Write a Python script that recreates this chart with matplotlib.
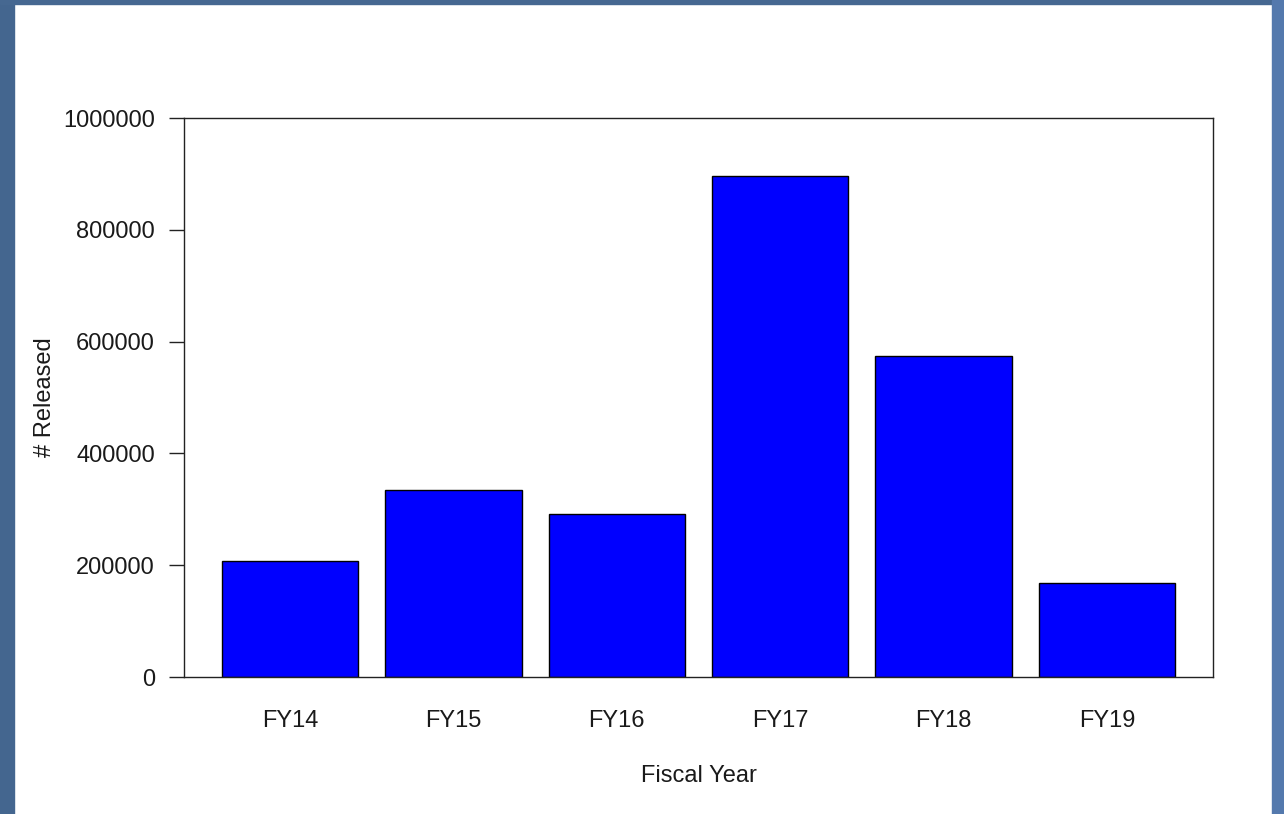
import matplotlib
matplotlib.use("Agg")
import matplotlib.pyplot as plt
from matplotlib.patches import Rectangle

categories = ["FY14", "FY15", "FY16", "FY17", "FY18", "FY19"]
released = [207500, 334000, 291000, 897000, 575000, 169000]
yticks = [0, 200000, 400000, 600000, 800000, 1000000]

plt.rcParams['font.family'] = ['Liberation Sans', 'DejaVu Sans']
plt.rcParams['text.color'] = '#1a1a1a'
plt.rcParams['xtick.color'] = '#1a1a1a'
plt.rcParams['ytick.color'] = '#1a1a1a'

W, H = 1284, 814
fig = plt.figure(figsize=(W / 100, H / 100), dpi=100)
fig.patch.set_facecolor("white")
# border strips
fig.patches.append(Rectangle((0, 0), 14 / W, 1, transform=fig.transFigure, color="#44668f", zorder=-1))
fig.patches.append(Rectangle((0, 1 - 4 / H), 1, 4 / H, transform=fig.transFigure, color="#466891", zorder=-1))
fig.patches.append(Rectangle((1272 / W, 0), 12 / W, 1, transform=fig.transFigure, color="#5479ad", zorder=-1))

ax = fig.add_axes([184 / W, 1 - 677 / H, (1213 - 184) / W, (677 - 118) / H])

xs = [0.7 + 1.2 * i for i in range(len(categories))]
ax.bar(xs, released, width=1.0, color="#0000ff", edgecolor="black", linewidth=1.0)
ax.set_xlim(0.2 - 0.28, 7.2 + 0.28)
ax.set_ylim(0, 1000000)

ax.set_yticks(yticks)
ax.set_yticklabels([str(v) for v in yticks], fontsize=17)
ax.set_xticks(xs)
ax.set_xticklabels(categories, fontsize=17)
ax.tick_params(axis="x", length=0, pad=24)
ax.tick_params(axis="y", length=11, width=1.0, pad=10, color="#222222")
for s in ax.spines.values():
    s.set_linewidth(1.0)
    s.set_color("#222222")

fig.text(698.5 / W, 1 - 776 / H, "Fiscal Year", ha="center", va="center", fontsize=17)
fig.text(45 / W, 1 - 397 / H, "# Released", ha="center", va="center", rotation=90, fontsize=17)

fig.savefig("out.png", dpi=100, facecolor=fig.get_facecolor())
